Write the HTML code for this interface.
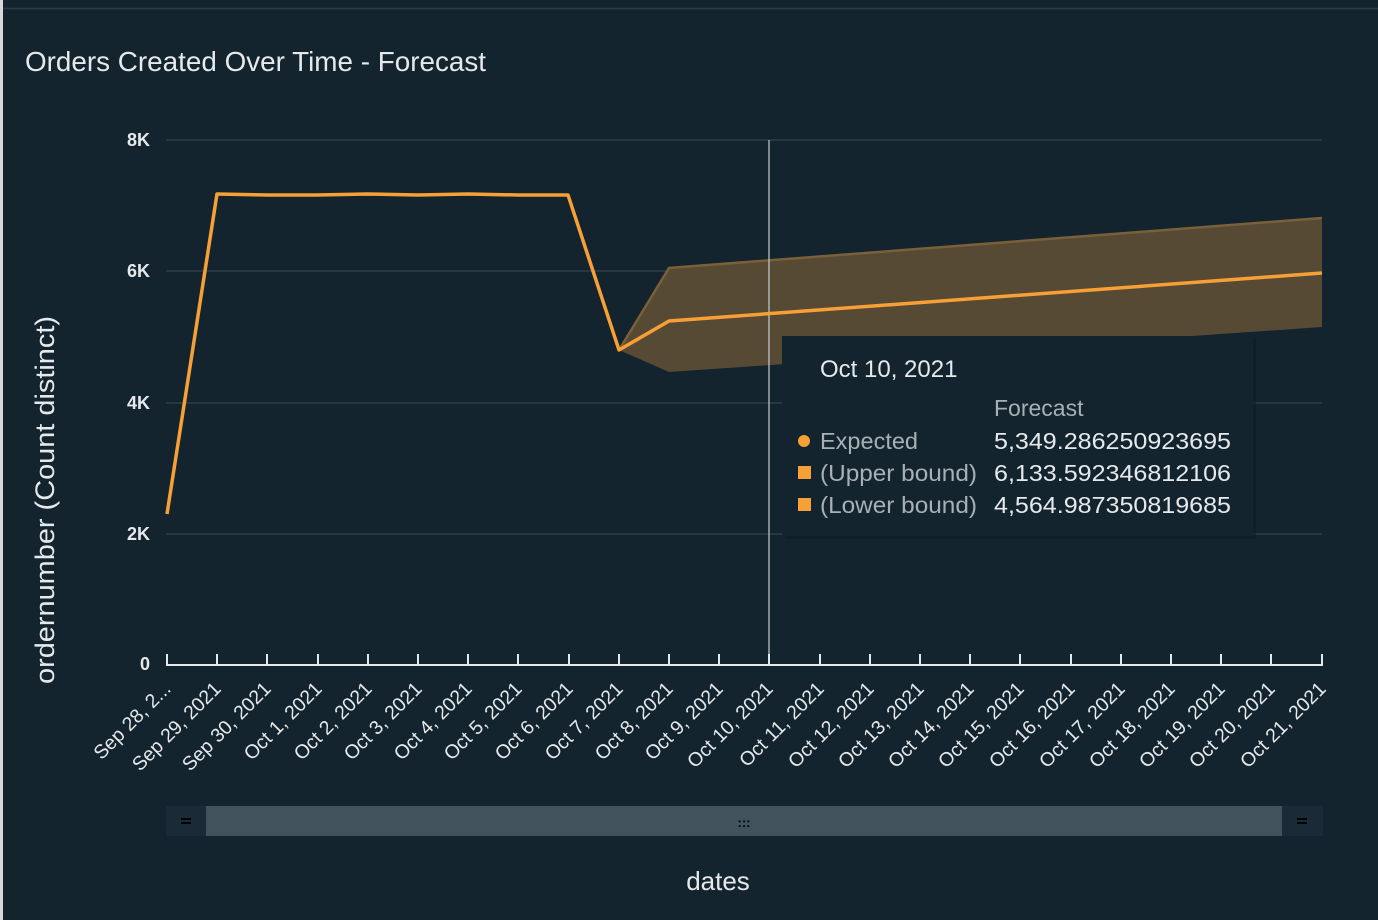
<!DOCTYPE html>
<html><head><meta charset="utf-8"><style>
html,body{margin:0;padding:0;background:#13242f;}
body{width:1378px;height:920px;overflow:hidden;position:relative;font-family:"Liberation Sans",sans-serif;}
</style></head><body>
<svg width="1378" height="920" viewBox="0 0 1378 920" xmlns="http://www.w3.org/2000/svg" style="position:absolute;left:0;top:0">
<rect x="0" y="0" width="1378" height="920" fill="#13242f"/>
<rect x="0" y="0" width="3" height="920" fill="#d8d8d8"/>
<line x1="3" y1="8.5" x2="1378" y2="8.5" stroke="#2a3a46" stroke-width="1.5"/>
<text x="25" y="71" font-size="27.5" fill="#e6e9eb" textLength="461" lengthAdjust="spacingAndGlyphs">Orders Created Over Time - Forecast</text>
<g stroke="#2c3d4a" stroke-width="1.5">
<line x1="166" y1="140" x2="1322" y2="140"/>
<line x1="166" y1="271" x2="1322" y2="271"/>
<line x1="166" y1="403" x2="1322" y2="403"/>
<line x1="166" y1="534" x2="1322" y2="534"/>
</g>
<g font-size="18" fill="#e6e9eb" text-anchor="end" font-weight="bold">
<text x="150" y="146">8K</text><text x="150" y="277">6K</text><text x="150" y="409">4K</text><text x="150" y="540">2K</text><text x="150" y="670">0</text>
</g>
<text transform="translate(54,500) rotate(-90)" text-anchor="middle" font-size="27" fill="#e6e9eb" textLength="368" lengthAdjust="spacingAndGlyphs">ordernumber (Count distinct)</text>
<polygon points="619,350 669,268 1322,218 1322,327 669,372" fill="#574a34"/>
<polyline points="619,350 669,268 1322,218" fill="none" stroke="#7a6038" stroke-width="2.5"/>
<line x1="769" y1="140" x2="769" y2="665" stroke="#c8ccd0" stroke-width="1.2"/>
<polyline points="167,514 217,194 267,195 317,195 367,194 418,195 468,194 518,195 568,195 619,350 669,321 1322,273" fill="none" stroke="#f7a035" stroke-width="3.5" stroke-linejoin="round"/>
<line x1="166" y1="665" x2="1323" y2="665" stroke="#e6e9eb" stroke-width="2"/>
<g stroke="#e6e9eb" stroke-width="2">
<line x1="167" y1="654" x2="167" y2="665"/><line x1="217" y1="654" x2="217" y2="665"/><line x1="267" y1="654" x2="267" y2="665"/><line x1="318" y1="654" x2="318" y2="665"/><line x1="368" y1="654" x2="368" y2="665"/><line x1="418" y1="654" x2="418" y2="665"/><line x1="468" y1="654" x2="468" y2="665"/><line x1="518" y1="654" x2="518" y2="665"/><line x1="569" y1="654" x2="569" y2="665"/><line x1="619" y1="654" x2="619" y2="665"/><line x1="669" y1="654" x2="669" y2="665"/><line x1="719" y1="654" x2="719" y2="665"/><line x1="769" y1="654" x2="769" y2="665"/><line x1="820" y1="654" x2="820" y2="665"/><line x1="870" y1="654" x2="870" y2="665"/><line x1="920" y1="654" x2="920" y2="665"/><line x1="970" y1="654" x2="970" y2="665"/><line x1="1020" y1="654" x2="1020" y2="665"/><line x1="1071" y1="654" x2="1071" y2="665"/><line x1="1121" y1="654" x2="1121" y2="665"/><line x1="1171" y1="654" x2="1171" y2="665"/><line x1="1221" y1="654" x2="1221" y2="665"/><line x1="1271" y1="654" x2="1271" y2="665"/><line x1="1322" y1="654" x2="1322" y2="665"/>
</g>
<g font-size="19.5" fill="#e6e9eb" text-anchor="end">
<text transform="translate(172,690) rotate(-45)">Sep 28, 2...</text>
<text transform="translate(222,690) rotate(-45)">Sep 29, 2021</text>
<text transform="translate(272,690) rotate(-45)">Sep 30, 2021</text>
<text transform="translate(323,690) rotate(-45)">Oct 1, 2021</text>
<text transform="translate(373,690) rotate(-45)">Oct 2, 2021</text>
<text transform="translate(423,690) rotate(-45)">Oct 3, 2021</text>
<text transform="translate(473,690) rotate(-45)">Oct 4, 2021</text>
<text transform="translate(523,690) rotate(-45)">Oct 5, 2021</text>
<text transform="translate(574,690) rotate(-45)">Oct 6, 2021</text>
<text transform="translate(624,690) rotate(-45)">Oct 7, 2021</text>
<text transform="translate(674,690) rotate(-45)">Oct 8, 2021</text>
<text transform="translate(724,690) rotate(-45)">Oct 9, 2021</text>
<text transform="translate(774,690) rotate(-45)">Oct 10, 2021</text>
<text transform="translate(825,690) rotate(-45)">Oct 11, 2021</text>
<text transform="translate(875,690) rotate(-45)">Oct 12, 2021</text>
<text transform="translate(925,690) rotate(-45)">Oct 13, 2021</text>
<text transform="translate(975,690) rotate(-45)">Oct 14, 2021</text>
<text transform="translate(1025,690) rotate(-45)">Oct 15, 2021</text>
<text transform="translate(1076,690) rotate(-45)">Oct 16, 2021</text>
<text transform="translate(1126,690) rotate(-45)">Oct 17, 2021</text>
<text transform="translate(1176,690) rotate(-45)">Oct 18, 2021</text>
<text transform="translate(1226,690) rotate(-45)">Oct 19, 2021</text>
<text transform="translate(1276,690) rotate(-45)">Oct 20, 2021</text>
<text transform="translate(1327,690) rotate(-45)">Oct 21, 2021</text>
</g>
<rect x="166" y="806" width="1157" height="30" fill="#1a2b37"/>
<rect x="206" y="806" width="1076" height="30" fill="#41525c"/>
<rect x="181" y="818" width="10" height="2" fill="#000"/><rect x="181" y="822" width="10" height="2" fill="#000"/>
<rect x="1297" y="818" width="10" height="2" fill="#000"/><rect x="1297" y="822" width="10" height="2" fill="#000"/>
<text x="744" y="827" font-size="13" fill="#000" text-anchor="middle" font-weight="bold">:::</text>
<text x="718" y="890" font-size="26" fill="#e6e9eb" text-anchor="middle">dates</text>
<rect x="785" y="339" width="471" height="200" fill="#0c1820" opacity="0.5"/>
<rect x="782" y="336" width="471" height="200" fill="#13242f"/>
<text x="820" y="377" font-size="24" fill="#e6e9eb">Oct 10, 2021</text>
<text x="994" y="416" font-size="23" fill="#a8b0b6">Forecast</text>
<circle cx="804" cy="441" r="6" fill="#f7a035"/>
<rect x="798" y="466" width="13" height="13" fill="#f7a035"/>
<rect x="798" y="498" width="13" height="13" fill="#f7a035"/>
<g font-size="23.5" fill="#a8b0b6"><text x="820" y="449">Expected</text><text x="820" y="481" textLength="157" lengthAdjust="spacingAndGlyphs">(Upper bound)</text><text x="820" y="513" textLength="157" lengthAdjust="spacingAndGlyphs">(Lower bound)</text></g>
<g font-size="23.5" fill="#e6e9eb"><text x="994" y="449" textLength="237" lengthAdjust="spacingAndGlyphs">5,349.286250923695</text><text x="994" y="481" textLength="237" lengthAdjust="spacingAndGlyphs">6,133.592346812106</text><text x="994" y="513" textLength="237" lengthAdjust="spacingAndGlyphs">4,564.987350819685</text></g>
</svg>
</body></html>
